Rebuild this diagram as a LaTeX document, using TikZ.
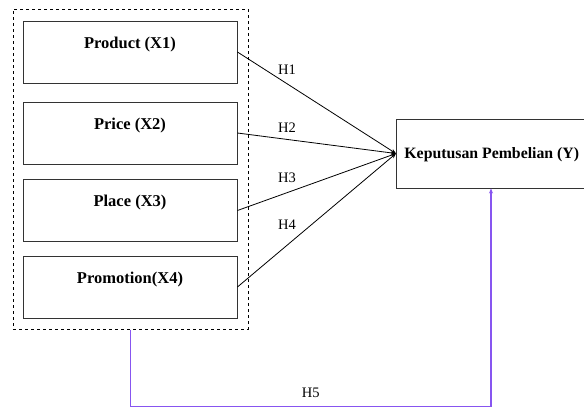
\documentclass[tikz,border=0pt]{standalone}
\usepackage{fontspec}
\setmainfont{Liberation Serif}
\usetikzlibrary{arrows.meta}
\definecolor{hline}{RGB}{135,85,240}
\begin{document}
\begin{tikzpicture}[x=1pt, y=-1pt,
  varbox/.style={draw=black!80, line width=0.9pt, inner sep=0pt, minimum width=214pt,
    text height=27pt, text depth=35pt, font=\fontsize{16.5}{18}\selectfont\bfseries},
  hlab/.style={font=\fontsize{14.5}{16}\selectfont},
  path/.style={line width=0.8pt, -{Stealth[length=5pt, width=4pt]}}]
  \useasboundingbox (0,0) rectangle (584,408);
  \node[draw, dashed, line width=1pt, minimum width=235pt, minimum height=320pt, inner sep=0pt] (grp) at (130.5,169) {};
  \node[varbox] (x1) at (130,52) {Product (X1)};
  \node[varbox] (x2) at (130,133) {Price (X2)};
  \node[varbox] (x3) at (130,210.5) {Place (X3)};
  \node[varbox] (x4) at (130,287) {Promotion(X4)};
  \node[draw=black!80, line width=0.9pt, anchor=west, inner sep=0pt, inner xsep=8pt,
    text height=39pt, text depth=30pt, font=\fontsize{15.8}{18}\selectfont\bfseries] (y) at (396,153.5) {Keputusan Pembelian (Y)};
  \draw[path] (x1.east) -- (y.west);
  \draw[path] (x2.east) -- (y.west);
  \draw[path] (x3.east) -- (y.west);
  \draw[path] (x4.east) -- (y.west);
  \node[hlab] (h1) at (287,70) {H1};
  \node[hlab] (h2) at (287,128) {H2};
  \node[hlab] (h3) at (287,178) {H3};
  \node[hlab] (h4) at (287,225) {H4};
  % simultaneous path
  \coordinate (c5) at (491,406.5);
  \draw[hline, path, line width=1.1pt] (grp.south) |- node[hlab, black, above=5pt, pos=0.75] (h5) {H5} (c5) -- (c5 |- y.south);
\end{tikzpicture}
\end{document}
